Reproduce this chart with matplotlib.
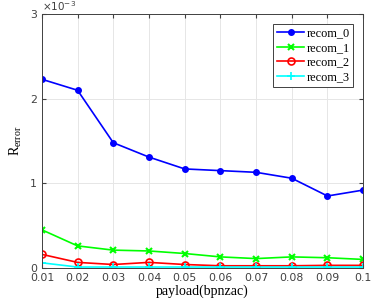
import numpy as np
import matplotlib.pyplot as plt

payload = [0.01, 0.02, 0.03, 0.04, 0.05, 0.06, 0.07, 0.08, 0.09, 0.1]
recom_0 = [2.23, 2.10, 1.48, 1.31, 1.17, 1.15, 1.13, 1.06, 0.85, 0.92]
recom_1 = [0.45, 0.26, 0.21, 0.20, 0.17, 0.13, 0.11, 0.13, 0.12, 0.10]
recom_2 = [0.16, 0.065, 0.04, 0.065, 0.04, 0.025, 0.025, 0.025, 0.03, 0.03]
recom_3 = [0.06, 0.01, 0.01, 0.01, 0.01, 0.01, 0.01, 0.01, 0.01, 0.01]
xticks = ['0.01', '0.02', '0.03', '0.04', '0.05', '0.06', '0.07', '0.08', '0.09', '0.1']

fig = plt.figure(figsize=(3.74, 3.01), dpi=100)
ax = fig.add_axes([0.112, 0.110, 0.859, 0.843])

scale = 1e-3
ax.plot(payload, np.array(recom_0) * scale, '-o', color='blue', lw=1.2, ms=4, label='recom_0')
ax.plot(payload, np.array(recom_1) * scale, '-x', color='#00ff00', lw=1.2, ms=4, mew=1.5, label='recom_1')
ax.plot(payload, np.array(recom_2) * scale, '-o', color='red', lw=1.2, ms=5, mfc='none', mew=1.2, label='recom_2')
ax.plot(payload, np.array(recom_3) * scale, '-+', color='cyan', lw=1.2, ms=6, mew=1.2, label='recom_3')

ax.set_xlim(0.01, 0.1)
ax.set_ylim(0, 3e-3)
ax.set_xticks(payload)
ax.set_xticklabels(xticks)
ax.set_yticks([0, 1e-3, 2e-3, 3e-3])
ax.set_yticklabels(['0', '1', '2', '3'])
ax.text(0.0, 1.005, r'$\times10^{-3}$', transform=ax.transAxes, fontsize=7.5, color='#404040', va='bottom', ha='left')

ax.grid(True, color='#e6e6e6', lw=0.7)
ax.set_axisbelow(True)
ax.tick_params(direction='in', length=3, labelsize=7.8, colors='#404040', top=True, right=True)
for s in ax.spines.values():
    s.set_color('#404040')
    s.set_linewidth(0.7)

ax.set_xlabel('payload(bpnzac)', family='Liberation Serif', fontsize=10, labelpad=1)
ax.set_ylabel(r'R$_{\mathregular{error}}$', family='Liberation Serif', fontsize=10, labelpad=4)

leg = ax.legend(loc='upper right', prop={'family': 'Liberation Serif', 'size': 8.8}, fancybox=False,
                edgecolor='#404040', framealpha=1, handlelength=2.2, handletextpad=0.2,
                borderpad=0.3, labelspacing=0.2, borderaxespad=0.8)
leg.get_frame().set_linewidth(0.7)

fig.savefig('out.png', dpi=100)
